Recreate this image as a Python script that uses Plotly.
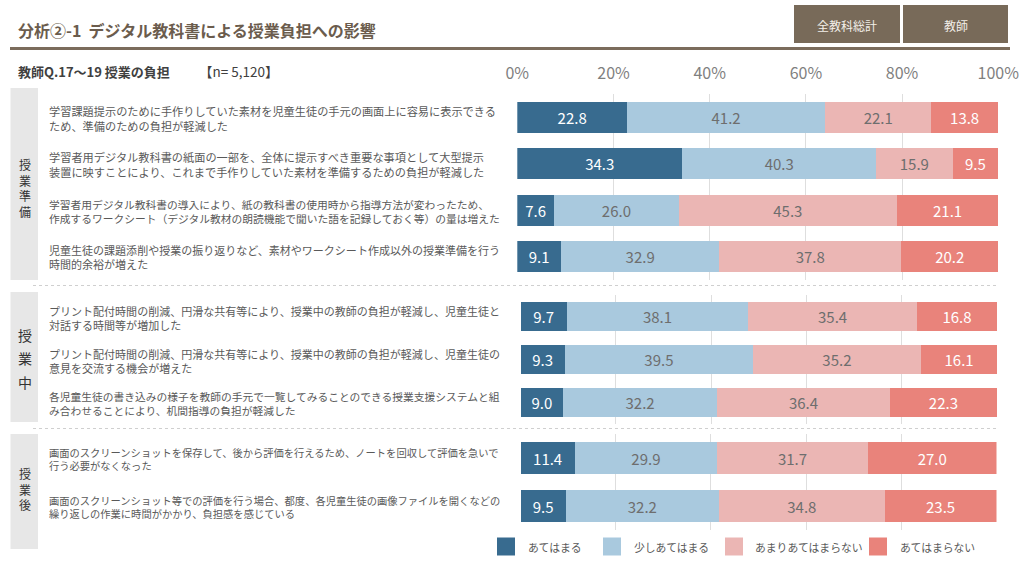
import plotly.graph_objects as go

# ---------------- data ----------------
series_names = ["あてはまる", "少しあてはまる", "あまりあてはまらない", "あてはまらない"]
series_colors = ["#386b8f", "#a9c9de", "#ebb6b4", "#e9837b"]
text_colors = ["#ffffff", "#6e6e6e", "#6e6e6e", "#ffffff"]

section_names = ["授業準備", "授業中", "授業後"]

items_prep = [
    "学習課題提示のために手作りしていた素材を児童生徒の手元の画面上に容易に表示できる<br>ため、準備のための負担が軽減した",
    "学習者用デジタル教科書の紙面の一部を、全体に提示すべき重要な事項として大型提示<br>装置に映すことにより、これまで手作りしていた素材を準備するための負担が軽減した",
    "学習者用デジタル教科書の導入により、紙の教科書の使用時から指導方法が変わったため、<br>作成するワークシート（デジタル教材の朗読機能で聞いた語を記録しておく等）の量は増えた",
    "児童生徒の課題添削や授業の振り返りなど、素材やワークシート作成以外の授業準備を行う<br>時間的余裕が増えた",
]
items_during = [
    "プリント配付時間の削減、円滑な共有等により、授業中の教師の負担が軽減し、児童生徒と<br>対話する時間等が増加した",
    "プリント配付時間の削減、円滑な共有等により、授業中の教師の負担が軽減し、児童生徒の<br>意見を交流する機会が増えた",
    "各児童生徒の書き込みの様子を教師の手元で一覧してみることのできる授業支援システムと組<br>み合わせることにより、机間指導の負担が軽減した",
]
items_after = [
    "画面のスクリーンショットを保存して、後から評価を行えるため、ノートを回収して評価を急いで<br>行う必要がなくなった",
    "画面のスクリーンショット等での評価を行う場合、都度、各児童生徒の画像ファイルを開くなどの<br>繰り返しの作業に時間がかかり、負担感を感じている",
]

# values per series, per section (rows in order)
prep_s1 = [22.8, 34.3, 7.6, 9.1]
prep_s2 = [41.2, 40.3, 26.0, 32.9]
prep_s3 = [22.1, 15.9, 45.3, 37.8]
prep_s4 = [13.8, 9.5, 21.1, 20.2]

during_s1 = [9.7, 9.3, 9.0]
during_s2 = [38.1, 39.5, 32.2]
during_s3 = [35.4, 35.2, 36.4]
during_s4 = [16.8, 16.1, 22.3]

after_s1 = [11.4, 9.5]
after_s2 = [29.9, 32.2]
after_s3 = [31.7, 34.8]
after_s4 = [27.0, 23.5]

tick_vals = [0, 20, 40, 60, 80, 100]
tick_text = ["0%", "20%", "40%", "60%", "80%", "100%"]

title_text = "分析②-1  デジタル教科書による授業負担への影響"
subtitle_text = "教師Q.17～19 授業の負担"
subtitle_n = "【n= 5,120】"
header_boxes = ["全教科総計", "教師"]

# ---------------- layout helpers ----------------
W, H = 1024, 563
FONT = "Noto Sans CJK JP"


def px(x):
    return x / W


def py(y):
    return 1 - y / H


def text_units(s):
    # width in em: full-width glyphs 1, ASCII ~0.55
    return sum(0.55 if ord(c) < 128 else 1.0 for c in s)


def label_size(label, max_w=452, base=11.2):
    longest = max(text_units(line) for line in label.split("<br>"))
    return min(base, max_w / longest)


sections = [
    (items_prep, [prep_s1, prep_s2, prep_s3, prep_s4]),
    (items_during, [during_s1, during_s2, during_s3, during_s4]),
    (items_after, [after_s1, after_s2, after_s3, after_s4]),
]

# pixel geometry of each panel: (x0, x1, y_top, y_bottom)
panel_geom = [
    (517.3, 998.3, 94.4, 279.6),
    (520.5, 997.0, 295.0, 424.0),
    (520.5, 996.5, 434.0, 530.0),
]

fig = go.Figure()

for si, (items, vals) in enumerate(sections):
    xa = "x" if si == 0 else f"x{si + 1}"
    ya = "y" if si == 0 else f"y{si + 1}"
    ycats = list(range(len(items)))
    for k in range(4):
        fig.add_trace(go.Bar(
            x=vals[k],
            y=ycats,
            orientation="h",
            name=series_names[k],
            marker=dict(color=series_colors[k], line=dict(width=0)),
            texttemplate="%{x:.1f}",
            textposition="inside",
            insidetextanchor="middle",
            textangle=0,
            textfont=dict(family=FONT, size=15, color=text_colors[k]),
            hoverinfo="skip",
            showlegend=False,
            xaxis=xa,
            yaxis=ya,
        ))

layout_axes = {}
for si, (items, vals) in enumerate(sections):
    x0, x1, yt, yb = panel_geom[si]
    xkey = "xaxis" if si == 0 else f"xaxis{si + 1}"
    ykey = "yaxis" if si == 0 else f"yaxis{si + 1}"
    ya_anchor = "y" if si == 0 else f"y{si + 1}"
    xa_anchor = "x" if si == 0 else f"x{si + 1}"
    n = len(items)
    layout_axes[xkey] = dict(
        domain=[px(x0), px(x1)],
        range=[0, 100],
        anchor=ya_anchor,
        side="top",
        tickvals=tick_vals,
        ticktext=tick_text,
        showticklabels=(si == 0),
        ticks="",
        ticklabelstandoff=11,
        tickfont=dict(family=FONT, size=16, color="#7f7f7f"),
        showgrid=True,
        gridcolor="#dedede",
        gridwidth=1,
        zeroline=False,
        showline=False,
        automargin=False,
        fixedrange=True,
    )
    layout_axes[ykey] = dict(
        domain=[py(yb), py(yt)],
        range=[n - 0.5, -0.5],
        anchor=xa_anchor,
        showticklabels=False,
        showgrid=False,
        zeroline=False,
        showline=False,
        automargin=False,
        fixedrange=True,
        type="linear",
    )

annotations = []
shapes = []

# row labels (attached to the category positions)
for si, (items, vals) in enumerate(sections):
    yref = "y" if si == 0 else f"y{si + 1}"
    for i, lab in enumerate(items):
        annotations.append(dict(
            xref="paper", yref=yref, x=px(47), y=i, xanchor="left", yanchor="middle",
            text=lab, align="left", showarrow=False, yshift=-1,
            font=dict(family=FONT, size=label_size(lab), color="#595959"),
        ))

# section boxes and vertical labels (stacked characters)
box_geom = [(88, 280), (292, 422), (434, 549)]
label_center = [188.5, 358, 488.5]
for si, name in enumerate(section_names):
    y0, y1 = box_geom[si]
    shapes.append(dict(type="rect", xref="paper", yref="paper",
                       x0=px(10.5), x1=px(38), y0=py(y1), y1=py(y0),
                       fillcolor="#e7e7e7", line=dict(width=0), layer="below"))
    if si == 1:
        # wider spacing for the middle block
        for ch, yy in zip(name, [334.5, 358, 381.5]):
            annotations.append(dict(
                xref="paper", yref="paper", x=px(24.5), y=py(yy), xanchor="center", yanchor="middle",
                text=ch, showarrow=False,
                font=dict(family=FONT, size=14, color="#333333"),
            ))
    else:
        annotations.append(dict(
            xref="paper", yref="paper", x=px(24.5), y=py(label_center[si]),
            xanchor="center", yanchor="middle",
            text="<br>".join(name), showarrow=False, align="center",
            font=dict(family=FONT, size=12, color="#333333"),
        ))

# dotted separators
for yy in (285.5, 428.5):
    shapes.append(dict(type="line", xref="paper", yref="paper",
                       x0=px(33), x1=px(999), y0=py(yy), y1=py(yy),
                       line=dict(color="#cfcfcf", width=1, dash="dot")))

# title + underline
annotations.append(dict(
    xref="paper", yref="paper", x=px(16), y=py(30), xanchor="left", yanchor="middle",
    text=f"<b>{title_text}</b>", showarrow=False,
    font=dict(family=FONT, size=16, color="#6b5c4d"),
))
shapes.append(dict(type="line", xref="paper", yref="paper",
                   x0=px(10), x1=px(1010), y0=py(48.5), y1=py(48.5),
                   line=dict(color="#7b6c5c", width=3)))

# header boxes
hb_geom = [(794, 900), (903, 1008)]
for (x0, x1), txt in zip(hb_geom, header_boxes):
    shapes.append(dict(type="rect", xref="paper", yref="paper",
                       x0=px(x0), x1=px(x1), y0=py(43), y1=py(5),
                       fillcolor="#786a59", line=dict(width=0)))
    annotations.append(dict(
        xref="paper", yref="paper", x=px((x0 + x1) / 2), y=py(25.5), xanchor="center", yanchor="middle",
        text=txt, showarrow=False,
        font=dict(family=FONT, size=12, color="#f3efe9"),
    ))

# subtitle
annotations.append(dict(
    xref="paper", yref="paper", x=px(16), y=py(71), xanchor="left", yanchor="middle",
    text=f"<b>{subtitle_text}</b>", showarrow=False,
    font=dict(family=FONT, size=13, color="#404040"),
))
annotations.append(dict(
    xref="paper", yref="paper", x=px(197), y=py(71), xanchor="left", yanchor="middle",
    text=subtitle_n, showarrow=False,
    font=dict(family=FONT, size=13.5, color="#404040"),
))

# legend (manual)
leg_sq = [497, 603, 725, 869]
leg_tx = [526, 632, 753, 898]
for k in range(4):
    shapes.append(dict(type="rect", xref="paper", yref="paper",
                       x0=px(leg_sq[k]), x1=px(leg_sq[k] + 18), y0=py(555.5), y1=py(537.5),
                       fillcolor=series_colors[k], line=dict(width=0)))
    annotations.append(dict(
        xref="paper", yref="paper", x=px(leg_tx[k]), y=py(546.5), xanchor="left", yanchor="middle",
        text=series_names[k], showarrow=False,
        font=dict(family=FONT, size=10.8, color="#595959"),
    ))

fig.update_layout(
    width=W, height=H,
    autosize=False,
    margin=dict(l=0, r=0, t=0, b=0, pad=0, autoexpand=False),
    paper_bgcolor="#ffffff",
    plot_bgcolor="rgba(0,0,0,0)",
    barmode="stack",
    bargap=0.33,
    annotations=annotations,
    shapes=shapes,
    showlegend=False,
    **layout_axes,
)

fig.write_html("out.html", config={"displayModeBar": False})
